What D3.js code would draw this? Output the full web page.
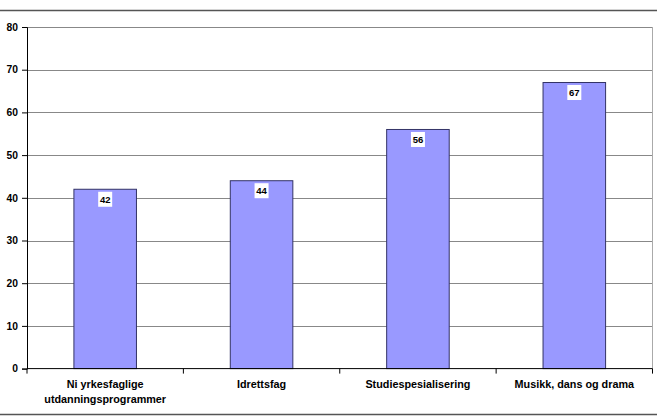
<!DOCTYPE html>
<html lang="no">
<head>
<meta charset="UTF-8">
<title>Bar chart</title>
<script src="https://cdn.jsdelivr.net/npm/d3@7/dist/d3.min.js"></script>
<style>
  body { margin: 0; background: #fff; }
  svg text { font-family: "Liberation Sans", Arial, sans-serif; font-weight: bold; }
</style>
</head>
<body>
<svg id="chart" width="657" height="417"></svg>
<script>
// data
const categories = [["Ni yrkesfaglige", "utdanningsprogrammer"], ["Idrettsfag"], ["Studiespesialisering"], ["Musikk, dans og drama"]];
const values = [42, 44, 56, 67];
const yTicks = [0, 10, 20, 30, 40, 50, 60, 70, 80];

const svg = d3.select('#chart');
const margin = {top: 27, right: 4.5, bottom: 48.4, left: 27};
const width = 657, height = 417;

// outer frame lines
svg.append('line').attr('x1', 0).attr('x2', width).attr('y1', 10.5).attr('y2', 10.5)
    .attr('stroke', '#555').attr('stroke-width', 1.5);
svg.append('line').attr('x1', 0).attr('x2', width).attr('y1', 414.5).attr('y2', 414.5)
    .attr('stroke', '#555').attr('stroke-width', 1.5);

const x = d3.scaleBand()
    .domain(d3.range(categories.length))
    .range([margin.left, width - margin.right])
    .paddingInner(0.6).paddingOuter(0.3);
const band = d3.scaleBand()
    .domain(d3.range(categories.length))
    .range([margin.left, width - margin.right]);
const y = d3.scaleLinear().domain([0, 80]).range([height - margin.bottom, margin.top]);

// gridlines
svg.append('g').selectAll('line').data(yTicks.filter(d => d > 0)).join('line')
    .attr('x1', margin.left).attr('x2', width - margin.right)
    .attr('y1', d => Math.round(y(d)) + 0.5).attr('y2', d => Math.round(y(d)) + 0.5)
    .attr('stroke', '#888').attr('stroke-width', 1);

// plot border right side
svg.append('line').attr('x1', width - margin.right).attr('x2', width - margin.right)
    .attr('y1', y(80)).attr('y2', y(0)).attr('stroke', '#aaa');

// bars
svg.append('g').selectAll('rect').data(values).join('rect')
    .attr('x', (d, i) => x(i)).attr('width', x.bandwidth())
    .attr('y', d => y(d)).attr('height', d => y(0) - y(d))
    .attr('fill', '#9999ff').attr('stroke', '#333366').attr('stroke-width', 1);

// value labels
const lab = svg.append('g').selectAll('g').data(values).join('g')
    .attr('transform', (d, i) => `translate(${x(i) + x.bandwidth() / 2},${y(d) + 10})`);
lab.append('rect').attr('x', -7).attr('y', -7.5).attr('width', 14).attr('height', 15).attr('fill', '#fff');
lab.append('text').attr('text-anchor', 'middle').attr('dy', '0.35em')
    .attr('font-size', 9.5).attr('fill', '#000').text(d => d);

// y axis
const yAxis = svg.append('g').attr('transform', `translate(${margin.left},0)`)
    .call(d3.axisLeft(y).tickValues(yTicks).tickSize(5).tickPadding(4));
yAxis.select('.domain').attr('stroke', '#000');
yAxis.selectAll('.tick line').attr('stroke', '#000');
yAxis.selectAll('text').attr('font-size', 10.3).attr('fill', '#000');

// x axis
const xAxis = svg.append('g').attr('transform', `translate(0,${y(0)})`);
xAxis.append('line').attr('x1', margin.left).attr('x2', width - margin.right)
    .attr('stroke', '#000');
xAxis.selectAll('line.tk').data(d3.range(categories.length + 1)).join('line')
    .attr('class', 'tk')
    .attr('x1', i => margin.left + i * band.step()).attr('x2', i => margin.left + i * band.step())
    .attr('y1', 0).attr('y2', 5).attr('stroke', '#000');
const xt = xAxis.selectAll('text').data(categories).join('text')
    .attr('text-anchor', 'middle').attr('font-size', 10.8).attr('fill', '#000')
    .attr('x', (d, i) => band(i) + band.bandwidth() / 2);
xt.selectAll('tspan').data(d => d).join('tspan')
    .attr('x', function () { return d3.select(this.parentNode).attr('x'); })
    .attr('y', (d, i) => 19.5 + i * 14.5)
    .text(d => d);
</script>
</body>
</html>
